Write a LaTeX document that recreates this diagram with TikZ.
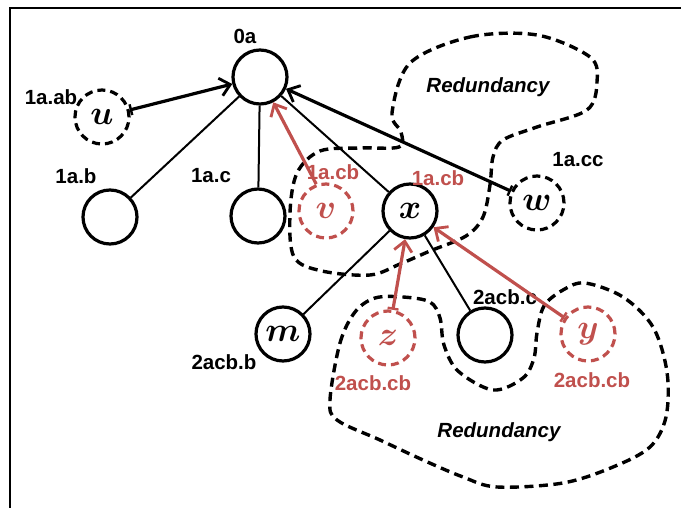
\RequirePackage{fix-cm}
\documentclass[tikz,border=0pt]{standalone}
\usepackage{fontspec}
\setmainfont{Liberation Sans}
\usetikzlibrary{arrows.meta}
\definecolor{myred}{RGB}{192,80,77}
\tikzset{
  vtx/.style={circle,draw=black,line width=3.2pt,minimum size=54pt,inner sep=0pt,font=\fontsize{34}{34}\selectfont\boldmath},
  dvtx/.style={vtx,dash pattern=on 8pt off 5pt},
  rvtx/.style={vtx,draw=myred,text=myred,dash pattern=on 8pt off 5pt},
  lbl/.style={font=\fontsize{20.5}{20.5}\selectfont\bfseries,inner sep=0pt},
  rlbl/.style={lbl,text=myred},
  thinedge/.style={line width=2pt},
  arr/.style={line width=3.2pt,{Bar[width=11pt,line width=2.4pt]}-{Straight Barb[length=10pt,width=18pt,line width=2.8pt]}},
  rarr/.style={arr,draw=myred},
  rarrv/.style={line width=3.2pt,draw=myred,-{Straight Barb[length=10pt,width=18pt,line width=2.8pt]}},
  blob/.style={line width=3.4pt,dash pattern=on 9pt off 5.5pt},
  redu/.style={font=\fontsize{20.5}{20.5}\selectfont\bfseries\itshape,inner sep=0pt}
}
\begin{document}
\begin{tikzpicture}[x=1pt,y=-1pt]
\useasboundingbox (0,0) rectangle (681,508);
\draw[line width=2pt] (10,508) -- (10,8) -- (681,8);

% blobs
\draw[blob] plot[smooth cycle,tension=0.55] coordinates {
 (410,63) (470,37) (537,35) (590,57) (597,82) (587,110) (537,127) (503,140)
 (493,157) (490,185) (483,217) (466,236) (430,251) (400,264) (370,275)
 (322,271) (294,257) (290,213) (297,173) (320,151) (360,148) (399,147)
 (401,132) (392,113)};
\draw[blob] plot[smooth cycle,tension=0.55] coordinates {
 (330,400) (340,343) (355,312) (375,298) (403,297) (430,302) (440,318)
 (444,345) (458,371) (493,390) (523,378) (534,358) (537,333) (544,306)
 (563,290) (585,283) (623,297) (653,327) (667,372) (666,417) (650,447)
 (613,467) (563,483) (497,487) (463,477) (423,460) (380,440) (337,420)};

% nodes
\node[vtx] (r) at (260,77) {};
\node[lbl] (r-l) at (245,36) {0a};
\node[dvtx] (u) at (102,117) {$u$};
\node[lbl] (u-l) at (51,97) {1a.ab};
\node[vtx] (b) at (110,217) {};
\node[lbl] (b-l) at (76,176) {1a.b};
\node[vtx] (c) at (258,216) {};
\node[lbl] (c-l) at (211,176) {1a.c};
\node[rvtx] (v) at (326,211) {$v$};
\node[vtx] (x) at (410,211) {$x$};
\node[rlbl] (x-l) at (438,178) {1a.cb};
\node[dvtx] (w) at (537,203) {$w$};
\node[lbl] (w-l) at (578,160) {1a.cc};
\node[vtx] (m) at (283,334) {$m$};
\node[lbl] (m-l) at (224,362) {2acb.b};
\node[rvtx] (z) at (388,338) {$z$};
\node[rlbl] (z-l) at (373,383) {2acb.cb};
\node[vtx] (n) at (485,335) {};
\node[lbl] (n-l) at (505,297) {2acb.c};
\node[rvtx] (y) at (588,334) {$y$};
\node[rlbl] (y-l) at (592,380) {2acb.cb};
\node[redu] (t1) at (488,87) {Redundancy};
\node[redu] (t2) at (499,432) {Redundancy};

% edges
\draw[thinedge] (b) -- (r);
\draw[thinedge] (c) -- (r);
\draw[thinedge] (x) -- (r);
\draw[thinedge] (x) -- (m);
\draw[thinedge] (x) -- (n);
\draw[arr] (u) -- (r);
\draw[arr] (w) -- (r);
\draw[rarrv] (v.110) -- (r);
\draw[rarr] (z) -- (x);
\draw[rarr] (y) -- (x);
\node[rlbl] (v-l) at (333,172) {1a.cb};
\end{tikzpicture}
\end{document}
